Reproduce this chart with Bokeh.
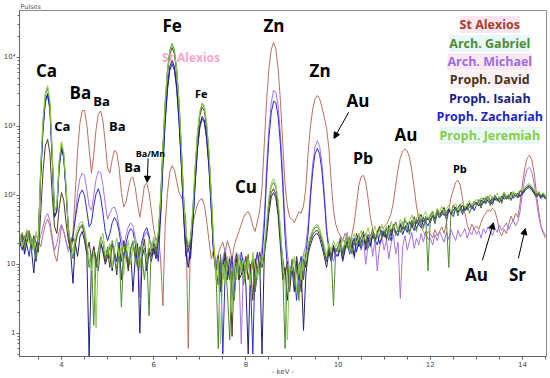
from bokeh.plotting import figure
from bokeh.models import Label, Arrow, NormalHead, FixedTicker, Range1d
from bokeh.embed import file_html
from bokeh.resources import INLINE

# energy channels (keV), 0.05 keV steps from 3.10 to 14.50
energy = [round(3.10 + 0.05 * i, 2) for i in range(229)]

st_alexios = [
    24, 29, 21, 27, 31, 23, 19, 26, 22, 18, 27, 38, 45, 36, 22, 14, 11, 19,
    36, 30, 21, 17, 20, 28, 110, 450, 1100, 1700, 1700, 1050, 480, 210, 380, 900, 1500, 1680, 1200, 580,
    250, 210, 330, 450, 420, 250, 110, 68, 80, 120, 175, 185, 130, 75, 48, 80, 140, 150, 110, 60,
    33, 22, 27, 12, 2.5, 38, 110, 220, 270, 235, 160, 110, 95, 78, 42, 0.6, 28, 40, 55, 75,
    85, 90, 72, 42, 22, 12, 16, 9, 14, 18, 21, 15, 22, 17, 12, 19, 24, 30, 38, 48,
    55, 58, 50, 36, 30, 42, 60, 130, 560, 2400, 6900, 13000, 16500, 13300, 6800, 2300, 560, 140, 70, 48,
    45, 40, 48, 58, 55, 70, 130, 420, 1000, 1800, 2500, 2800, 2500, 1900, 1350, 950, 480, 160, 60, 38,
    30, 26, 22, 28, 24, 20, 27, 40, 75, 140, 185, 195, 155, 90, 48, 32, 26, 29, 36, 33,
    35, 38, 45, 55, 80, 140, 240, 350, 440, 470, 440, 350, 230, 130, 70, 45, 35, 30, 26, 30,
    28, 24, 32, 26, 30, 35, 28, 40, 60, 95, 120, 155, 165, 140, 90, 55, 38, 30, 38, 33,
    36, 32, 40, 48, 55, 62, 58, 65, 60, 45, 30, 26, 32, 28, 38, 50, 42, 55, 48, 80,
    150, 250, 350, 380, 330, 220, 110, 60, 35, 28, 24,
]

arch_gabriel = [
    20, 26, 17, 23, 30, 15, 22, 12, 28, 250, 1150, 2900, 3600, 2200, 400, 60, 70, 300,
    560, 400, 130, 35, 18, 12, 22, 28, 35, 38, 30, 18, 9, 14, 1.3, 11, 16, 25, 20, 12,
    18, 12, 22, 15, 8, 17, 2.4, 14, 20, 11, 16, 22, 13, 9, 18, 12, 6, 14, 1.8, 20,
    22, 15, 28, 90, 520, 2300, 6800, 12900, 16000, 12900, 6800, 2300, 520, 95, 25, 18, 22, 60, 250, 760,
    1560, 2100, 1850, 1060, 410, 100, 20, 9, 0.6, 14, 6, 11, 4, 0.8, 8, 3, 10, 7, 12, 5,
    9, 14, 6, 11, 4, 9, 7, 12, 15, 35, 85, 135, 155, 130, 75, 30, 8, 0.6, 10, 6,
    12, 5, 9, 3, 11, 7, 14, 18, 24, 30, 34, 35, 30, 24, 16, 12, 18, 14, 2.5, 17,
    15, 20, 13, 22, 17, 25, 14, 21, 19, 26, 18, 24, 28, 17, 23, 30, 21, 26, 33, 24,
    27, 34, 22, 30, 38, 26, 33, 29, 41, 31, 36, 27, 44, 35, 30, 47, 38, 33, 50, 8,
    45, 52, 40, 58, 48, 55, 62, 44, 9, 60, 53, 66, 50, 70, 58, 63, 75, 55, 68, 80,
    72, 85, 66, 90, 78, 95, 70, 88, 100, 82, 92, 76, 105, 88, 98, 84, 110, 95, 102, 118,
    112, 125, 135, 140, 130, 115, 100, 108, 96, 104, 92,
]

arch_michael = [
    19, 24, 15, 22, 27, 18, 23, 14, 20, 26, 35, 48, 55, 42, 25, 16, 20, 30,
    38, 30, 22, 15, 19, 24, 50, 110, 175, 210, 195, 120, 70, 60, 100, 170, 225, 215, 140, 75,
    45, 55, 65, 68, 55, 35, 24, 18, 26, 35, 40, 36, 25, 17, 3.3, 20, 26, 30, 24, 18,
    20, 15, 24, 52, 300, 1300, 3800, 7300, 9000, 7300, 3800, 1300, 300, 55, 16, 11, 18, 42, 150, 470,
    960, 1300, 1140, 650, 250, 62, 16, 10, 14, 7, 12, 17, 9, 13, 6, 11, 15, 8, 0.7, 12,
    9, 13, 7, 11, 5, 14, 10, 18, 50, 260, 950, 2200, 3300, 3150, 1950, 760, 200, 40, 14, 8,
    10, 6, 12, 4, 9, 14, 19, 38, 115, 290, 510, 620, 510, 290, 110, 35, 18, 14, 11, 16,
    18, 25, 14, 22, 29, 17, 24, 12, 21, 28, 16, 23, 10, 19, 27, 13, 22, 8, 18, 24,
    16, 23, 12, 20, 27, 14, 21, 3.2, 18, 26, 16, 22, 29, 17, 24, 19, 28, 21, 30, 23,
    24, 19, 27, 22, 30, 25, 21, 29, 23, 32, 26, 22, 31, 25, 28, 33, 24, 30, 27, 34,
    27, 31, 24, 33, 28, 35, 30, 26, 34, 29, 37, 31, 35, 40, 32, 38, 44, 36, 42, 60,
    110, 180, 240, 255, 220, 150, 85, 50, 35, 30, 26,
]

proph_david = [
    22, 27, 19, 31, 24, 17, 26, 20, 15, 55, 220, 520, 650, 400, 100, 35, 28, 65,
    110, 85, 40, 22, 16, 24, 19, 28, 33, 36, 27, 15, 21, 12, 18, 9, 14, 20, 16, 11,
    16, 9, 20, 13, 7, 18, 11, 22, 14, 8, 17, 21, 12, 19, 9, 15, 23, 10, 17, 13,
    20, 14, 26, 80, 450, 2000, 5900, 11200, 14000, 11200, 5900, 2000, 460, 85, 24, 16, 20, 55, 230, 700,
    1420, 1900, 1680, 960, 370, 92, 18, 8, 13, 5, 10, 15, 7, 12, 0.9, 9, 14, 6, 11, 8,
    13, 6, 10, 3, 12, 8, 15, 9, 14, 30, 70, 110, 125, 105, 60, 24, 12, 7, 11, 4,
    10, 6, 13, 8, 4, 12, 9, 16, 22, 27, 30, 31, 27, 21, 15, 11, 17, 13, 19, 15,
    18, 23, 14, 20, 26, 17, 22, 19, 28, 21, 25, 30, 19, 27, 24, 32, 22, 29, 35, 26,
    31, 25, 37, 29, 34, 41, 30, 38, 33, 45, 36, 42, 34, 49, 39, 46, 53, 41, 48, 44,
    50, 57, 46, 62, 53, 58, 67, 51, 60, 55, 72, 61, 66, 75, 59, 70, 64, 78, 68, 82,
    74, 87, 70, 92, 80, 97, 85, 78, 101, 89, 94, 83, 107, 96, 88, 112, 99, 104, 94, 115,
    110, 122, 132, 138, 127, 114, 100, 110, 97, 106, 94,
]

proph_isaiah = [
    18, 25, 14, 21, 28, 16, 7.5, 19, 24, 200, 950, 2400, 3000, 1850, 340, 50, 60, 260,
    490, 360, 115, 30, 15, 5.3, 20, 13, 25, 30, 22, 14, 0.45, 10, 18, 12, 8, 21, 15, 10,
    13, 19, 8, 15, 11, 21, 6, 14, 18, 9, 16, 4, 12, 20, 1.0, 13, 17, 8, 15, 11,
    17, 12, 22, 55, 300, 1300, 3800, 7300, 9000, 7300, 3800, 1300, 300, 55, 14, 9, 16, 40, 160, 500,
    1030, 1400, 1230, 700, 270, 68, 15, 7, 11, 4, 9, 13, 6, 10, 3, 8, 12, 6, 7, 10,
    5, 0.5, 9, 12, 4, 8, 11, 0.5, 14, 25, 55, 95, 110, 92, 50, 18, 6, 9, 3, 7,
    9, 4, 11, 6, 8, 1.1, 7, 14, 19, 24, 27, 28, 24, 18, 13, 9, 15, 11, 17, 13,
    14, 19, 12, 17, 22, 15, 20, 13, 24, 18, 21, 27, 16, 23, 19, 26, 22, 28, 20, 25,
    29, 23, 32, 26, 35, 28, 31, 38, 27, 34, 40, 30, 37, 43, 33, 39, 46, 36, 42, 48,
    40, 52, 45, 56, 48, 60, 51, 57, 64, 53, 61, 68, 56, 65, 72, 60, 69, 76, 63, 73,
    80, 70, 86, 77, 91, 82, 75, 95, 85, 90, 79, 98, 88, 93, 102, 86, 97, 106, 92, 100,
    104, 116, 126, 130, 120, 106, 95, 102, 90, 98, 88,
]

proph_zachariah = [
    21, 16, 26, 19, 13, 24, 18, 11, 22, 190, 880, 2250, 2800, 1700, 320, 48, 58, 250,
    470, 345, 110, 32, 20, 26, 45, 75, 105, 120, 100, 60, 35, 40, 70, 105, 125, 95, 55, 30,
    22, 28, 40, 48, 42, 30, 18, 12, 20, 28, 33, 30, 20, 9, 15, 22, 30, 34, 26, 16,
    14, 19, 11, 48, 270, 1150, 3400, 6500, 8000, 6500, 3400, 1150, 270, 50, 13, 17, 12, 38, 150, 470,
    960, 1300, 1150, 650, 250, 62, 14, 9, 5, 12, 0.5, 8, 11, 6, 13, 4, 9, 7, 15, 10,
    8, 12, 6, 0.5, 10, 15, 9, 13, 35, 185, 680, 1570, 2330, 2220, 1370, 540, 140, 25, 9, 5,
    11, 7, 3, 9, 13, 6, 14, 28, 90, 225, 400, 480, 395, 225, 90, 30, 16, 12, 18, 14,
    13, 18, 11, 16, 21, 14, 19, 24, 15, 22, 17, 26, 20, 25, 18, 28, 23, 19, 27, 31,
    25, 33, 28, 22, 36, 30, 26, 39, 32, 35, 29, 42, 37, 31, 45, 38, 34, 48, 41, 36,
    44, 50, 39, 55, 47, 52, 58, 45, 62, 54, 49, 66, 57, 63, 53, 70, 61, 67, 74, 60,
    72, 78, 66, 84, 75, 89, 80, 73, 94, 85, 90, 81, 99, 88, 95, 104, 91, 98, 108, 96,
    108, 122, 134, 138, 126, 110, 98, 106, 94, 102, 90,
]

proph_jeremiah = [
    28, 18, 24, 32, 20, 25, 16, 30, 21, 270, 1250, 3100, 3900, 2350, 430, 55, 75, 320,
    600, 420, 140, 30, 22, 15, 26, 33, 40, 42, 34, 20, 12, 8, 16, 1.2, 13, 22, 28, 15,
    14, 20, 9, 17, 24, 13, 19, 7, 15, 22, 10, 18, 25, 14, 8, 20, 16, 11, 23, 17,
    25, 18, 30, 85, 490, 2200, 6500, 12300, 15300, 12300, 6500, 2200, 500, 92, 28, 20, 24, 65, 270, 800,
    1650, 2200, 1950, 1100, 430, 105, 22, 6, 12, 0.7, 10, 5, 13, 9, 2, 11, 6, 14, 8, 12,
    7, 12, 5, 15, 9, 6, 13, 10, 18, 40, 95, 150, 175, 145, 85, 32, 11, 5, 0.8, 9,
    8, 13, 4, 10, 6, 15, 11, 20, 26, 32, 36, 38, 33, 25, 19, 14, 20, 16, 22, 18,
    21, 16, 24, 19, 27, 15, 23, 28, 20, 25, 31, 22, 27, 34, 24, 29, 36, 26, 31, 38,
    30, 36, 28, 42, 33, 39, 31, 45, 37, 48, 35, 43, 52, 40, 47, 55, 44, 50, 58, 46,
    53, 60, 49, 65, 57, 70, 54, 63, 72, 58, 68, 76, 62, 71, 80, 66, 74, 85, 70, 79,
    88, 75, 93, 82, 98, 86, 104, 90, 96, 108, 92, 100, 112, 97, 105, 93, 115, 102, 110, 120,
    118, 130, 142, 148, 136, 120, 108, 115, 102, 110, 98,
]

series_names = ["St Alexios", "Arch. Gabriel", "Arch. Michael", "Proph. David",
                "Proph. Isaiah", "Proph. Zachariah", "Proph. Jeremiah"]
series_values = [st_alexios, arch_gabriel, arch_michael, proph_david,
                 proph_isaiah, proph_zachariah, proph_jeremiah]
line_colors = ["#b9705f", "#4e8a32", "#a673ea", "#4f3b1e", "#21217f", "#2c2cd8", "#8ccd4f"]
text_colors = ["#a5402c", "#4f8a33", "#9d6ee6", "#4a3416", "#1e1e80", "#1f1fcc", "#8acb4b"]
legend_bg = ["#fde3ee", "#e3f8f6", "#fbe6f2", "#fdf0f4", "#ffffff", "#ffffff", "#e3f8f4"]
legend_y = [30000, 15900, 8700, 4800, 2530, 1390, 740]
legend_x = 13.29

x_ticks = [4, 6, 8, 10, 12, 14]
x_minor = [3.5 + 0.5 * i for i in range(23)]
y_ticks = [1, 10, 100, 1000, 10000]
y_tick_labels = {1: "1", 10: "10", 100: "10\u00b2", 1000: "10\u00b3", 10000: "10\u2074"}

# element annotations: text, keV, counts, font size
element_labels = [
    ("Ca", 3.675, 6500, "17px"), ("Ba", 4.41, 3100, "17px"), ("Ba", 4.87, 2300, "13px"),
    ("Ca", 4.02, 1000, "13px"), ("Ba", 5.21, 1000, "13px"), ("Ba", 5.54, 255, "13px"),
    ("Ba/Mn", 5.93, 405, "9px"), ("Fe", 6.40, 29000, "17px"), ("Fe", 7.03, 3000, "11px"),
    ("Zn", 8.61, 29000, "17px"), ("Zn", 9.61, 6500, "17px"), ("Au", 10.43, 2400, "17px"),
    ("Cu", 8.00, 135, "17px"), ("Pb", 10.54, 345, "16px"), ("Au", 11.47, 770, "17px"),
    ("Pb", 12.64, 245, "11px"), ("Au", 13.00, 7.2, "17px"), ("Sr", 13.89, 7.2, "17px"),
]
arrows = [
    (5.88, 343, 5.86, 155), (10.23, 1600, 9.91, 670),
    (13.13, 11.4, 13.37, 40), (13.91, 12.2, 14.06, 33),
]

p = figure(width=550, height=378, x_range=Range1d(3.09, 14.52), y_range=Range1d(0.46, 48000),
           y_axis_type="log", output_backend="svg", toolbar_location=None,
           min_border_left=18, min_border_right=4, min_border_top=0, min_border_bottom=22)
p.grid.visible = False
p.outline_line_color = "#8c8c8c"

p.title.text = "Pulses"
p.title.align = "left"
p.title.text_font_size = "6.5px"
p.title.text_font = "DejaVu Sans"
p.title.text_font_style = "normal"
p.title.text_color = "#555555"
p.title.standoff = 0
p.title.offset = 1

order = [0, 2, 5, 4, 3, 1, 6]
for k in order:
    vals = series_values[k]
    p.line(energy[:len(vals)], vals, line_color=line_colors[k], line_width=1)

p.xaxis.ticker = FixedTicker(ticks=x_ticks, minor_ticks=x_minor)
p.yaxis.ticker = FixedTicker(ticks=y_ticks,
                             minor_ticks=[m * 10 ** e for e in range(-1, 5) for m in range(2, 10)])
p.yaxis.major_label_overrides = y_tick_labels
for ax in (p.xaxis[0], p.yaxis[0]):
    ax.axis_line_color = "#666666"
    ax.major_tick_line_color = "#666666"
    ax.minor_tick_line_color = "#666666"
    ax.major_tick_out = 3
    ax.major_tick_in = 0
    ax.minor_tick_in = 0
    ax.major_label_text_font_size = "7px"
    ax.major_label_text_color = "#444444"
    ax.major_label_text_font = "DejaVu Sans"
    ax.major_label_standoff = 1
p.xaxis.minor_tick_out = 3
p.yaxis.minor_tick_out = 2
p.xaxis.axis_label = "- keV -"
p.xaxis.axis_label_text_font_size = "7px"
p.xaxis.axis_label_text_font = "DejaVu Sans"
p.xaxis.axis_label_text_font_style = "normal"
p.xaxis.axis_label_text_color = "#555555"
p.xaxis.axis_label_standoff = -2

# faint echo of the legend inside the plot
p.add_layout(Label(x=6.81, y=10000, text="St Alexios", text_font="Open Sans", text_font_style="bold",
                   text_font_size="12px", text_color="#ff5fb0", text_alpha=0.6,
                   text_align="center", text_baseline="middle"))

for t, x, y, fs in element_labels:
    p.add_layout(Label(x=x, y=y, text=t, text_font="Open Sans", text_font_style="bold",
                       text_font_size=fs, text_color="black", text_align="center",
                       text_baseline="middle"))
for x0, y0, x1, y1 in arrows:
    p.add_layout(Arrow(end=NormalHead(size=6, fill_color="black", line_color="black"),
                       x_start=x0, y_start=y0, x_end=x1, y_end=y1, line_color="black", line_width=1))

for name, col, bg, y in zip(series_names, text_colors, legend_bg, legend_y):
    p.add_layout(Label(x=legend_x, y=y, text=name, text_font="Open Sans", text_font_style="bold",
                       text_font_size="12.5px", text_color=col, text_align="center",
                       text_baseline="middle", background_fill_color=bg, background_fill_alpha=0.9))

open("out.html", "w").write(file_html(p, INLINE))
